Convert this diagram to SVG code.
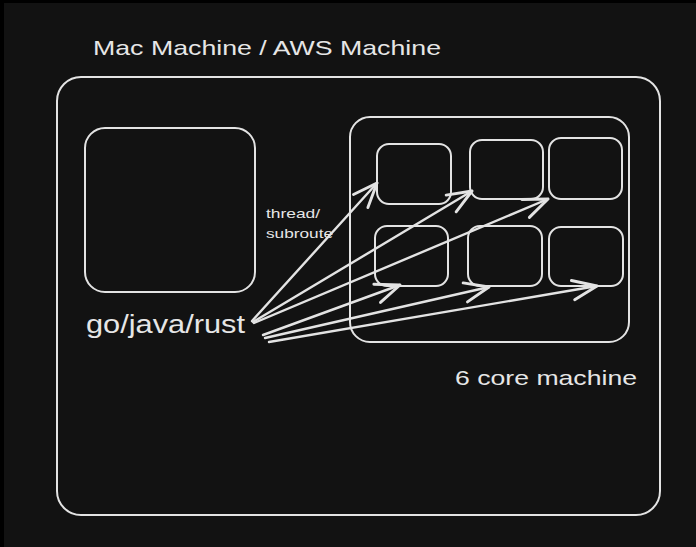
<svg xmlns="http://www.w3.org/2000/svg" width="696" height="547" viewBox="0 0 696 547">
<style>
.box{fill:none;stroke:#e3e3e3;stroke-width:2;}
.conn{fill:none;stroke:#e3e3e3;stroke-width:2.4;stroke-linecap:round;}
.t{fill:#e6e6e6;font-family:"Liberation Sans",Arial,sans-serif;}
</style>
<defs>
<marker id="ah" markerUnits="userSpaceOnUse" markerWidth="34" markerHeight="34" viewBox="-24 -14 28 28" refX="0" refY="0" orient="auto">
<path d="M-20,-8 L0,0 L-20,8" fill="none" stroke="#e3e3e3" stroke-width="2.4" stroke-linecap="round" stroke-linejoin="round"/>
</marker>
</defs>
<rect x="0" y="0" width="696" height="547" fill="#121212"/>
<rect x="0" y="0" width="696" height="3" fill="#000"/>
<rect x="0" y="0" width="4" height="547" fill="#000"/>

<g id="title"><text class="t" x="93" y="55" font-size="21" textLength="348" lengthAdjust="spacingAndGlyphs">Mac Machine / AWS Machine</text></g>
<g id="outer"><rect class="box" x="57" y="77" width="603" height="438" rx="24"/></g>
<g id="left-box"><rect class="box" x="85" y="128" width="170" height="164" rx="20"/></g>
<g id="lang-label"><text class="t" x="86" y="333" font-size="25" textLength="159" lengthAdjust="spacingAndGlyphs">go/java/rust</text></g>
<g id="thread-label">
<text class="t" x="266" y="218" font-size="13" textLength="54" lengthAdjust="spacingAndGlyphs">thread/</text>
<text class="t" x="266" y="238" font-size="13" textLength="67" lengthAdjust="spacingAndGlyphs">subroute</text>
</g>
<g id="core-machine"><rect class="box" x="350" y="117" width="279" height="225" rx="20"/></g>
<g id="core1"><rect class="box" x="377" y="144" width="74" height="60" rx="12"/></g>
<g id="core2"><rect class="box" x="470" y="140" width="73" height="59" rx="12"/></g>
<g id="core3"><rect class="box" x="549" y="138" width="73" height="61" rx="12"/></g>
<g id="core4"><rect class="box" x="375" y="226" width="73" height="60" rx="12"/></g>
<g id="core5"><rect class="box" x="468" y="226" width="74" height="60" rx="12"/></g>
<g id="core6"><rect class="box" x="549" y="227" width="74" height="59" rx="12"/></g>
<g id="core-label"><text class="t" x="455" y="385" font-size="21" textLength="182" lengthAdjust="spacingAndGlyphs">6 core machine</text></g>

<g id="connectors">
<line class="conn" x1="252" y1="321" x2="377" y2="183" marker-end="url(#ah)"/>
<line class="conn" x1="253" y1="322" x2="472" y2="191" marker-end="url(#ah)"/>
<line class="conn" x1="254" y1="323" x2="548" y2="199" marker-end="url(#ah)"/>
<line class="conn" x1="263" y1="335" x2="400" y2="285" marker-end="url(#ah)"/>
<line class="conn" x1="265" y1="338" x2="489" y2="287" marker-end="url(#ah)"/>
<line class="conn" x1="269" y1="342" x2="597" y2="286" marker-end="url(#ah)"/>
</g>
</svg>
